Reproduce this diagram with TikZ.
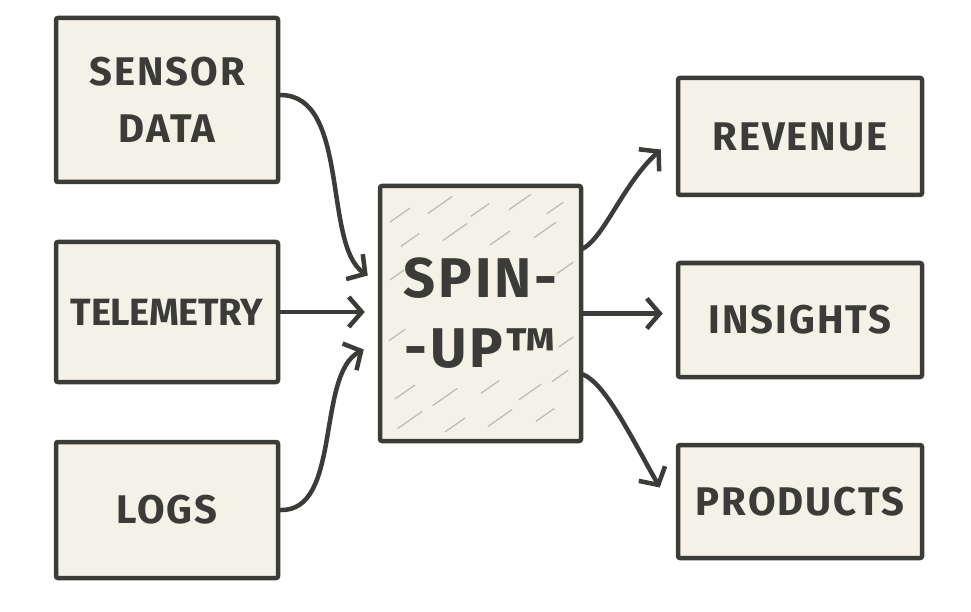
\documentclass[tikz,border=0pt]{standalone}
\usepackage{fontspec}
\usepackage{tikz}
\usetikzlibrary{arrows.meta}
\newfontfamily\handfont[LetterSpace=5]{Fira Sans}
\newfontfamily\tighthand[LetterSpace=-1]{Fira Sans}
\definecolor{ink}{HTML}{3B3B38}
\definecolor{paper}{HTML}{F4F1E7}
\tikzset{
  box/.style={draw=ink, fill=paper, line width=4.5pt, rounded corners=2pt,
    text=ink, align=center, inner sep=0pt},
  flow/.style={draw=ink, line width=4.5pt, line cap=round,
    -{Straight Barb[length=13pt, width=30pt, line width=4.5pt]}},
  hatch/.style={draw=gray!55, line width=1.2pt, line cap=round}
}
\begin{document}
\begin{tikzpicture}[x=1pt, y=-1pt]
        \useasboundingbox (0,0) rectangle (971,612);
        % Nodes
        \node[box, minimum width=222pt, minimum height=164pt,
          font=\handfont\bfseries\fontsize{40}{57}\selectfont] (sensor) at (167,100) {SENSOR\\DATA};
        \node[box, minimum width=222pt, minimum height=140pt,
          font=\tighthand\bfseries\fontsize{38}{50}\selectfont] (telemetry) at (167,312) {TELEMETRY};
        \node[box, minimum width=222pt, minimum height=136pt,
          font=\handfont\bfseries\fontsize{40}{50}\selectfont] (logs) at (167,510) {LOGS};
        \node[box, minimum width=201pt, minimum height=255pt] (spin) at (480.5,313.5) {};
        \node[box, minimum width=244pt, minimum height=117pt,
          font=\handfont\bfseries\fontsize{40}{50}\selectfont] (revenue) at (800,136.5) {REVENUE};
        \node[box, minimum width=244pt, minimum height=114pt,
          font=\handfont\bfseries\fontsize{40}{50}\selectfont] (insights) at (800,320) {INSIGHTS};
        \node[box, minimum width=244pt, minimum height=113pt,
          font=\handfont\bfseries\fontsize{40}{50}\selectfont] (products) at (800,501.5) {PRODUCTS};

        % Sketchy hatching
        \foreach \hx/\hy/\hl in {400/215/10,440/205/12,480/210/9,520/202/11,555/208/8,
            410/240/9,455/232/12,500/238/10,545/230/11,397/275/7,565/268/8,397/335/8,
            566/342/7,405/392/10,445/397/12,490/387/9,530/392/11,560/376/8,410/420/12,
            455/425/10,500/418/12,545/415/9}
          \draw[hatch] (\hx-\hl,\hy+0.7*\hl) -- (\hx+\hl,\hy-0.7*\hl);
        \node[text=ink, align=center, font=\handfont\bfseries\fontsize{56}{70}\selectfont]
          (spinlabel) at (spin) {SPIN-\\-UP™};

        % Edges
        \draw[flow] ([yshift=5pt]sensor.east) .. controls +(70,0) and +(-45,-30) ..
          ([xshift=-10pt, yshift=38pt]spin.west);
        \draw[flow, shorten >=13pt] (telemetry.east) -- (telemetry.east -| spin.west);
        \draw[flow] (logs.east) .. controls +(62,2) and +(-48,25) ..
          ([xshift=-14pt, yshift=-36pt]spin.west);
        \draw[flow] ([yshift=65pt]spin.east) .. controls +(22,-13) and +(-38,35) ..
          ([xshift=-15pt, yshift=-13pt]revenue.west);
        \draw[flow, shorten >=13pt] (spin.east) -- (spin.east -| insights.west);
        \draw[flow] ([yshift=-61pt]spin.east) .. controls +(22,10) and +(-32,-57) ..
          ([xshift=-16pt, yshift=14pt]products.west);
    \end{tikzpicture}
\end{document}
